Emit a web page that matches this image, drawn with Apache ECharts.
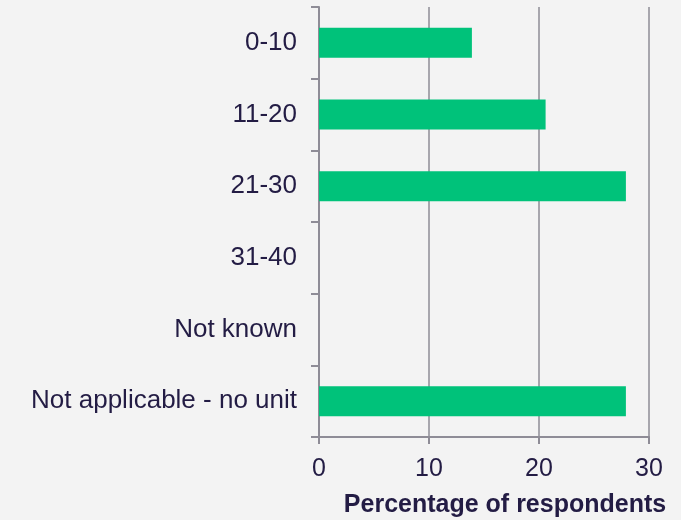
<!DOCTYPE html>
<html><head><meta charset="utf-8">
<script src="https://cdn.jsdelivr.net/npm/echarts@6/dist/echarts.min.js"></script>
<style>html,body{margin:0;padding:0;background:#f3f3f3;}#c{width:681px;height:520px;}</style>
</head><body><div id="c"></div>
<script>
const categories = ['0-10','11-20','21-30','31-40','Not known','Not applicable - no unit'];
const values = [13.9, 20.6, 27.9, 0, 0, 27.9];
const xTicks = [0, 10, 20, 30];
const xTitle = 'Percentage of respondents';

const chart = echarts.init(document.getElementById('c'));
const axisColor = '#8e8c96';
const textColor = '#231c44';
chart.setOption({
  backgroundColor: '#f3f3f3',
  animation: false,
  grid: {left: 319, right: 32, top: 7, bottom: 83, containLabel: false, outerBoundsMode: 'none'},
  xAxis: {
    type: 'value', min: xTicks[0], max: xTicks[xTicks.length-1], interval: 10,
    name: xTitle, nameLocation: 'middle', nameGap: 56,
    nameTextStyle: {fontFamily: 'Liberation Sans', fontSize: 25, fontWeight: 'bold', color: textColor, padding: [0, 0, 0, 42]},
    axisLine: {show: true, lineStyle: {color: axisColor, width: 2}},
    axisTick: {show: true, length: 7, lineStyle: {color: axisColor, width: 2}},
    axisLabel: {fontFamily: 'Liberation Sans', fontSize: 25, color: textColor, margin: 20},
    splitLine: {show: true, lineStyle: {color: axisColor, width: 1.5}}
  },
  yAxis: {
    type: 'category', data: categories, inverse: true,
    axisLine: {show: true, lineStyle: {color: axisColor, width: 2}},
    axisTick: {show: true, length: 8, lineStyle: {color: axisColor, width: 2}},
    axisLabel: {fontFamily: 'Liberation Sans', fontSize: 26, color: textColor, margin: 22},
    splitLine: {show: false}
  },
  series: [{
    type: 'bar', data: values, barWidth: 30,
    itemStyle: {color: '#00c27a'}
  }]
});
</script></body></html>
